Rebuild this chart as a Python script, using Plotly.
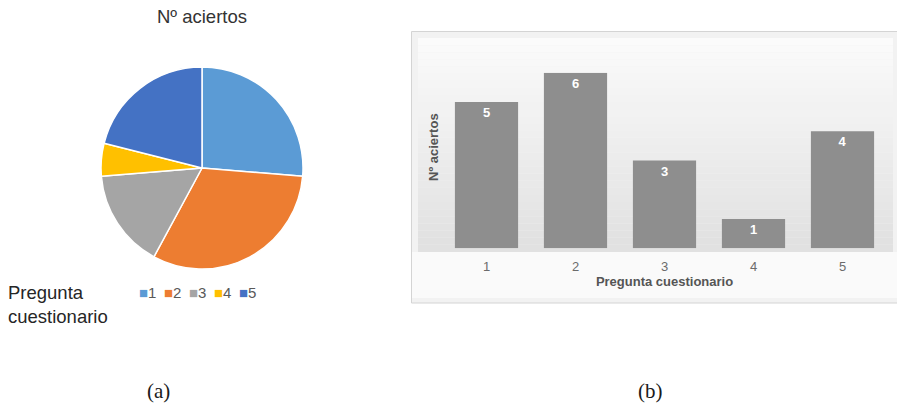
import plotly.graph_objects as go

# ---- data ----
categories = ["1", "2", "3", "4", "5"]
aciertos = [5, 6, 3, 1, 4]
pie_colors = ["#5B9BD5", "#ED7D31", "#A5A5A5", "#FFC000", "#4472C4"]
pie_title = "Nº aciertos"
legend_title = "Pregunta<br>cuestionario"
x_title = "Pregunta cuestionario"
y_title = "Nº aciertos"
captions = ["(a)", "(b)"]

W, H = 897, 409


def px(x):
    return x / W


def py(y):
    return 1 - y / H


fig = go.Figure()

# ---- pie (a) ----
fig.add_trace(go.Pie(
    labels=categories, values=aciertos, sort=False, direction="clockwise",
    rotation=0, textinfo="none", hoverinfo="label+value",
    marker=dict(colors=pie_colors, line=dict(color="white", width=1.5)),
    domain=dict(x=[px(101), px(303)], y=[py(269), py(67)]),
    showlegend=False,
))

# ---- bar chart (b) ----
fig.add_trace(go.Bar(
    x=categories, y=aciertos, marker=dict(color="#8E8E8E", line=dict(width=0)),
    text=aciertos, texttemplate="%{text}", textposition="inside",
    insidetextanchor="end",
    textfont=dict(color="white", size=13, family="Liberation Sans", weight="bold"),
    showlegend=False, cliponaxis=False,
))

shapes = []
# outer box of chart (b)
shapes.append(dict(type="rect", xref="paper", yref="paper",
                   x0=px(411.5), x1=px(898), y0=py(303), y1=py(31.5),
                   line=dict(color="#D4D4D4", width=1), fillcolor="#F2F2F2",
                   layer="below"))
# soft vertical gradient behind the bars
n = 30
top, bottom = 38, 252
for i in range(n):
    y0 = top + (bottom - top) * i / n
    y1 = top + (bottom - top) * (i + 1) / n
    t = i / (n - 1)
    g = int(251 - t * 26)
    shapes.append(dict(type="rect", xref="paper", yref="paper",
                       x0=px(418), x1=px(893), y0=py(y1), y1=py(y0),
                       line=dict(width=0), fillcolor=f"rgb({g},{g},{g})",
                       layer="below"))
# lighter floor band
shapes.append(dict(type="rect", xref="paper", yref="paper",
                   x0=px(412), x1=px(897), y0=py(298), y1=py(252),
                   line=dict(width=0), fillcolor="#FAFAFA", layer="below"))

annotations = []
# legend title
annotations.append(dict(text=legend_title, xref="paper", yref="paper",
                        x=px(6), y=py(280), xanchor="left", yanchor="top",
                        align="left", showarrow=False,
                        font=dict(family="Liberation Sans", size=18.5, color="#262626")))
# legend items
for i, (c, col) in enumerate(zip(categories, pie_colors)):
    annotations.append(dict(
        text=f"<span style='color:{col};font-size:15px'>■</span>{c}",
        xref="paper", yref="paper", x=px(137 + 25 * i), y=py(292),
        xanchor="left", yanchor="middle", showarrow=False,
        font=dict(family="Liberation Sans", size=15, color="#595959")))
# y axis title (b)
annotations.append(dict(text=y_title, xref="paper", yref="paper",
                        x=px(433), y=py(147), xanchor="center", yanchor="middle",
                        textangle=-90, showarrow=False,
                        font=dict(family="Liberation Sans", size=13, color="#555555",
                                  weight="bold")))
# captions
for cap, cx in zip(captions, [158, 650]):
    annotations.append(dict(text=cap, xref="paper", yref="paper",
                            x=px(cx), y=py(391), xanchor="center", yanchor="middle",
                            showarrow=False,
                            font=dict(family="Liberation Serif", size=21, color="#1a1a1a")))

fig.update_layout(
    width=W, height=H, margin=dict(l=0, r=0, t=0, b=0),
    paper_bgcolor="white", plot_bgcolor="rgba(0,0,0,0)",
    title=dict(text=pie_title, x=px(202), y=py(17), xanchor="center",
               yanchor="middle", xref="paper", yref="paper",
               font=dict(family="Liberation Sans", size=18.5, color="#333333")),
    bargap=0.29,
    xaxis=dict(domain=[px(442), px(887)], range=[-0.5, 4.5], type="category",
               showgrid=False, zeroline=False, showline=False, ticks="",
               ticklabelstandoff=9,
               tickfont=dict(family="Liberation Sans", size=13, color="#6b6b6b"),
               title=dict(text=x_title, standoff=3,
                          font=dict(family="Liberation Sans", size=13, color="#555555",
                                    weight="bold"))),
    yaxis=dict(domain=[py(248.3), py(72.7)], range=[0, 6], showgrid=False,
               zeroline=False, showline=False, showticklabels=False, ticks=""),
    shapes=shapes, annotations=annotations,
)

fig.write_html("out.html")
